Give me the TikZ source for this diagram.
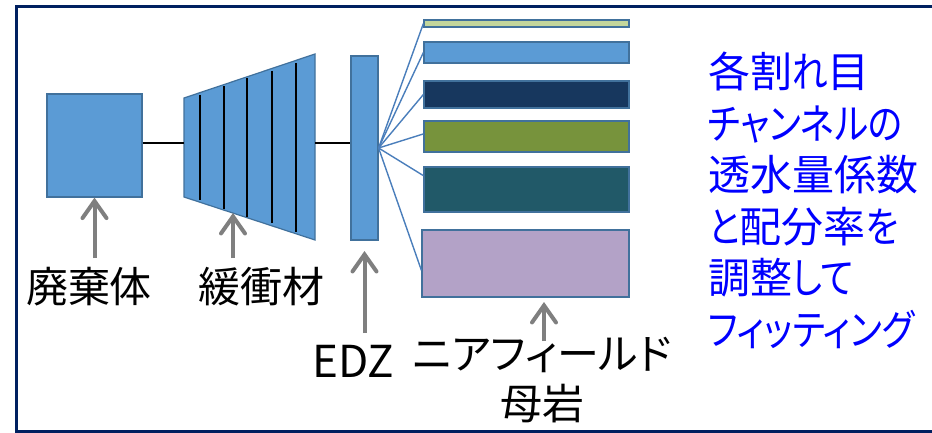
\documentclass[tikz,border=0pt]{standalone}
\usepackage{fontspec}
\setmainfont{Noto Sans CJK JP}[RawFeature={+palt}]
\newfontfamily\kn{Noto Sans CJK JP}[RawFeature={+palt}, FakeStretch=0.85]
\usetikzlibrary{arrows.meta,calc}
\definecolor{frameblue}{RGB}{0,32,96}
\definecolor{accent}{RGB}{91,155,213}
\definecolor{edge}{RGB}{65,113,156}
\definecolor{fanline}{RGB}{74,126,187}
\definecolor{sgreenl}{RGB}{195,214,155}
\definecolor{snavy}{RGB}{23,55,94}
\definecolor{sgreen}{RGB}{119,147,60}
\definecolor{steal}{RGB}{33,89,104}
\definecolor{slilac}{RGB}{179,162,199}
\definecolor{garrowc}{RGB}{127,127,127}
\definecolor{bluetext}{RGB}{0,0,255}
\tikzset{
  blk/.style={draw=edge, line width=1.2pt, fill=accent, inner sep=0pt},
  stripe/.style={draw=edge, line width=1.2pt, inner sep=0pt, minimum width=205},
  conn/.style={draw=black, line width=1.6pt},
  fan/.style={draw=fanline, line width=1.4pt},
  garrow/.style={draw=garrowc, line width=4pt, -{Straight Barb[length=17pt,width=24pt,line cap=round]}},
  lab/.style={inner sep=0pt, font=\fontsize{42}{50}\selectfont},
  bluelab/.style={inner sep=0pt, text=bluetext, align=left, font=\fontsize{42}{51.5}\selectfont}
}
\begin{document}
\begin{tikzpicture}[x=1pt,y=-1pt]
\useasboundingbox (0,0) rectangle (932,433);
\fill[white] (0,0) rectangle (932,433);
\draw[frameblue, line width=3pt] (16.5,6.5) rectangle (960,431.5);

% waste package
\node[blk, minimum width=95, minimum height=103] (waste) at (94.5,145.5) {};

% buffer trapezoid
\coordinate (tl) at (184,98);
\coordinate (bl) at (184,197);
\coordinate (tr) at (315,54);
\coordinate (br) at (315,240);
\filldraw[fill=accent, draw=edge, line width=1.2pt] (tl) -- (tr) -- (br) -- (bl) -- cycle;
\foreach \xx/\ya/\yb in {200/95/200, 224/86.5/208.5, 247/78/216.5, 272/71/223, 296/63.5/231.5}
  \draw[black, line width=1.7pt] (\xx,\ya) -- (\xx,\yb);

% EDZ
\node[blk, minimum width=27, minimum height=184] (edz) at (364.5,148) {};

% connectors
\draw[conn] ([yshift=2.5pt]waste.east) -- ([yshift=2.5pt]waste.east -| tl);
\draw[conn] ([yshift=5pt]edz.west -| tr) -- ([yshift=5pt]edz.west);

% stripes
\node[stripe, fill=sgreenl, minimum height=7] (s1) at (526.5,23.5) {};
\node[stripe, fill=accent, minimum height=21] (s2) at (526.5,52.5) {};
\node[stripe, fill=snavy, minimum height=27] (s3) at (526.5,94.5) {};
\node[stripe, fill=sgreen, minimum height=31] (s4) at (526.5,136.5) {};
\node[stripe, fill=steal, minimum height=45] (s5) at (526.5,189.5) {};
\node[stripe, fill=slilac, minimum width=207, minimum height=67] (s6) at (525.5,263.5) {};

% fan
\draw[fan] (edz.east) -- (s1.west);
\draw[fan] (edz.east) -- (s2.west);
\draw[fan] (edz.east) -- (s3.west);
\draw[fan] (edz.east) -- ($(s4.north west)!0.42!(s4.south west)$);
\draw[fan] (edz.east) -- ($(s5.north west)!0.2!(s5.south west)$);
\draw[fan] (edz.east) -- ($(s6.north west)!0.6!(s6.south west)$);

% labels
\node[lab] (lwaste) at (89,287) {廃棄体};
\node[lab] (lbuf) at (261,287) {緩衝材};
\node[lab] (ledz) at (353,361) {\fontsize{44}{50}\selectfont EDZ};
\node[lab, align=center] (lrock) at (542,380) {ニアフィールド\\母岩};

% arrows
\coordinate (wt) at (94.5,258);
\coordinate (bt) at (233,258);
\coordinate (bh) at (233,213);
\coordinate (et) at (364.5,333);
\coordinate (eh) at (364.5,251);
\coordinate (rt) at (544,341);
\coordinate (rh) at (544,302);
\draw[garrow] (wt) -- (waste.south);
\draw[garrow] (bt) -- (bh);
\draw[garrow] (et) -- (eh);
\draw[garrow] (rt) -- (rh);

% blue annotation
\node[bluelab, anchor=north west] (note) at (708,52) {各割{\kn れ}目\\{\kn チャンネルの}\\透水量係数\\{\kn と}配分率{\kn を}\\調整{\kn して}\\{\kn フィッティング}};
\end{tikzpicture}
\end{document}
